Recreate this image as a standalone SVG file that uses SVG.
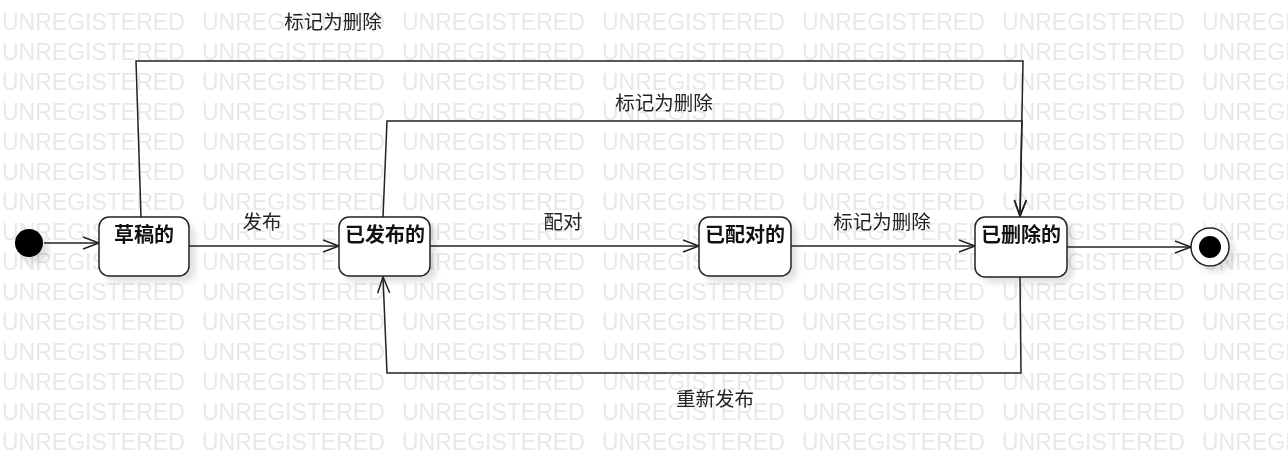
<svg xmlns="http://www.w3.org/2000/svg" width="1288" height="469" viewBox="0 0 1288 469">
<style>
.wm{font-family:"Liberation Sans",Arial,sans-serif;font-size:23px;fill:#e8e8e8}
.box{fill:#fff;stroke:#222;stroke-width:1.5}
.shadow{fill:#000;opacity:0.12}
.nt{font-family:"Liberation Sans","Noto Sans CJK SC",sans-serif;font-size:20px;font-weight:bold;fill:#111;text-anchor:middle}
.lb{font-family:"Liberation Sans","Noto Sans CJK SC",sans-serif;font-size:19.5px;fill:#222;text-anchor:middle}
.cn{fill:none;stroke:#222;stroke-width:1.5}
</style>
<defs>
<pattern id="wmp" patternUnits="userSpaceOnUse" x="0" y="0" width="200" height="30">
<text class="wm" x="2" y="29.5">UNREGISTERED</text>
</pattern>
<filter id="blur" x="-20%" y="-20%" width="140%" height="140%"><feGaussianBlur stdDeviation="3"/></filter>
<marker id="arr" markerUnits="userSpaceOnUse" markerWidth="20" markerHeight="16" refX="17" refY="7" orient="auto">
<path d="M1,1 L17,7 L1,13" fill="none" stroke="#222" stroke-width="1.5"/>
</marker>
</defs>
<rect width="1288" height="469" fill="#fff"/>
<rect width="1288" height="453" fill="url(#wmp)"/>

<g id="shadows" filter="url(#blur)">
<circle class="shadow" cx="35" cy="249" r="14"/>
<rect class="shadow" x="105" y="223" width="90" height="59" rx="10"/>
<rect class="shadow" x="345" y="223" width="91" height="59" rx="10"/>
<rect class="shadow" x="705" y="223" width="92" height="59" rx="10"/>
<rect class="shadow" x="981" y="223" width="92" height="60" rx="10"/>
<circle class="shadow" cx="1216" cy="253" r="19"/>
</g>

<g id="connectors">
<path class="cn" d="M44,243 L99,243" marker-end="url(#arr)"/>
<path class="cn" d="M189,246 L339,246" marker-end="url(#arr)"/>
<path class="cn" d="M430,246 L699,246" marker-end="url(#arr)"/>
<path class="cn" d="M790,246 L975,246" marker-end="url(#arr)"/>
<path class="cn" d="M1067,247 L1191,247" marker-end="url(#arr)"/>
<path class="cn" d="M141,217 L136,61 L1023,61 L1020,216" marker-end="url(#arr)"/>
<path class="cn" d="M383,217 L387,121 L1022,121 L1020,216" marker-end="url(#arr)"/>
<path class="cn" d="M1020,277 L1021,373 L387,373 L383,277" marker-end="url(#arr)"/>
<text class="lb" x="333" y="29">标记为删除</text>
<text class="lb" x="664" y="110">标记为删除</text>
<text class="lb" x="262" y="229">发布</text>
<text class="lb" x="563" y="229">配对</text>
<text class="lb" x="882" y="229">标记为删除</text>
<text class="lb" x="715" y="406">重新发布</text>
</g>

<g id="initial"><circle cx="29" cy="243" r="14" fill="#000"/></g>
<g id="draft"><rect class="box" x="99" y="217" width="90" height="59" rx="10"/><text class="nt" x="144" y="242">草稿的</text></g>
<g id="published"><rect class="box" x="339" y="217" width="91" height="59" rx="10"/><text class="nt" x="385" y="242">已发布的</text></g>
<g id="paired"><rect class="box" x="699" y="217" width="92" height="59" rx="10"/><text class="nt" x="745" y="242">已配对的</text></g>
<g id="deleted"><rect class="box" x="975" y="217" width="92" height="60" rx="10"/><text class="nt" x="1021" y="242">已删除的</text></g>
<g id="final"><circle cx="1210" cy="247" r="19" fill="#fff" stroke="#222" stroke-width="1.5"/><circle cx="1210" cy="247" r="11" fill="#000"/></g>
</svg>
